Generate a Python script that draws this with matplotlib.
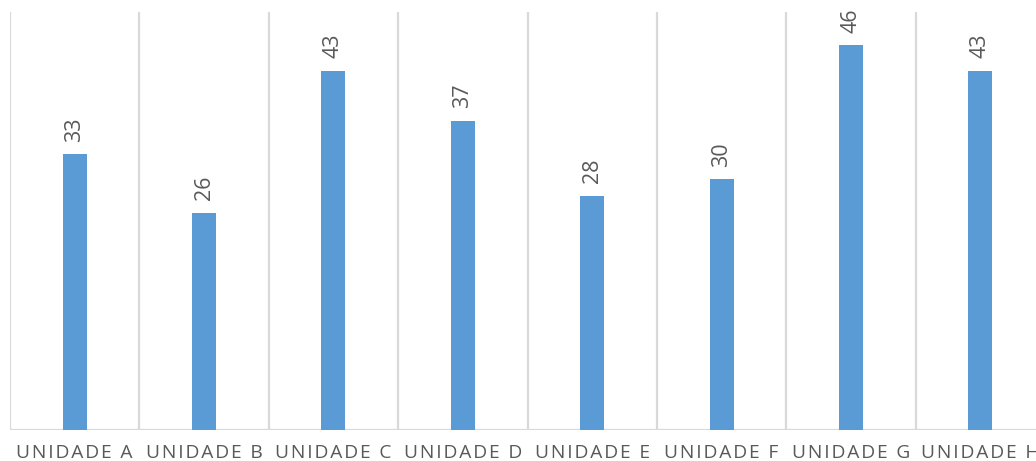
import matplotlib.pyplot as plt
import numpy as np

categories = ["UNIDADE A", "UNIDADE B", "UNIDADE C", "UNIDADE D",
              "UNIDADE E", "UNIDADE F", "UNIDADE G", "UNIDADE H"]
values = [33, 26, 43, 37, 28, 30, 46, 43]

plt.rcParams['font.family'] = ['Open Sans', 'DejaVu Sans']

W, H = 1036, 461
fig = plt.figure(figsize=(W / 100, H / 100), dpi=100)
# axes spans slightly past the right edge, as in the reference
left, right, top, bottom = 10, 1045, 12, 430
ax = fig.add_axes([left / W, 1 - bottom / H, (right - left) / W, (bottom - top) / H])

x = np.arange(len(categories))
ax.bar(x, values, width=0.185, color="#5b9bd5", zorder=3)

for xi, v in zip(x, values):
    ax.annotate(str(v), (xi, v), xytext=(0, 9), textcoords="offset points",
                rotation=90, ha="center", va="bottom", fontsize=15.5, color="#595959")

ax.set_xlim(-0.5, len(categories) - 0.5)
ax.set_ylim(0, 50)

# vertical separators between categories
for b in np.arange(-0.5, len(categories), 1.0):
    ax.axvline(b, color="#d9d9d9", linewidth=1.6, zorder=1)
ax.axhline(0, color="#d9d9d9", linewidth=1.6, zorder=2)

for s in ax.spines.values():
    s.set_visible(False)
ax.set_yticks([])
ax.set_xticks(x)
# letter-spaced labels (hair space between letters)
spaced = ["\u200a".join(c) for c in categories]
ax.set_xticklabels(spaced, fontsize=13.8, color="#595959")
ax.tick_params(axis="x", length=0, pad=10)

fig.savefig("out.png", dpi=100)
